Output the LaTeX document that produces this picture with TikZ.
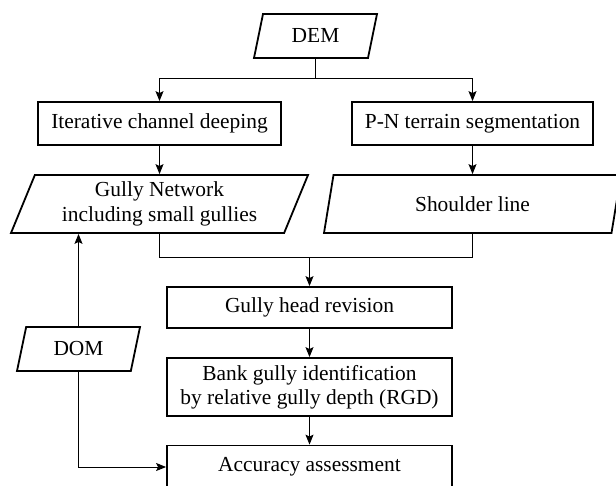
\documentclass[tikz,border=0pt]{standalone}
\usepackage{fontspec}
\setmainfont{Liberation Serif}
\usetikzlibrary{shapes.geometric, arrows.meta, positioning}

\begin{document}
\begin{tikzpicture}[
                x=1bp, y=-1bp,
                % process steps (rectangles)
                procbox/.style={
                    rectangle,
                    draw=black, line width=1.8bp,
                    fill=white,
                    font=\fontsize{21.5}{24.5}\selectfont,
                    align=center, inner sep=2bp
                },
                % input / output data (parallelograms)
                databox/.style={
                    trapezium, trapezium left angle=63.5, trapezium right angle=116.5,
                    trapezium stretches body,
                    draw=black, line width=1.8bp,
                    fill=white,
                    font=\fontsize{21.5}{24.5}\selectfont,
                    align=center, inner sep=2bp
                },
                % plain connector
                flowline/.style={
                    line width=0.9bp, color=black
                },
                % connector with arrow head
                flowarrow/.style={
                    flowline, -{Stealth[length=10bp, width=8bp, inset=2bp]}
                }
            ]
                \useasboundingbox (0,0) rectangle (616,486);

                % 1. Data and process nodes
                \node[databox, minimum width=123bp, minimum height=44bp] (dem) at (315.5,36) {DEM};

                \node[procbox, minimum width=243bp, minimum height=43bp] (iter) at (159.5,123.5) {Iterative channel deeping};
                \node[procbox, minimum width=241bp, minimum height=43bp] (pnseg) at (472.5,123.5) {P-N terrain segmentation};

                \node[databox, minimum width=297bp, minimum height=58bp] (gully) at (159.5,204) {Gully Network\\including small gullies};
                \node[databox, minimum width=297bp, minimum height=58bp] (shoulder) at (472.5,204) {Shoulder line};

                \node[procbox, minimum width=285bp, minimum height=41bp] (head) at (309.5,307.5) {Gully head revision};
                \node[procbox, minimum width=285bp, minimum height=58bp] (bank) at (309.5,387) {Bank gully identification\\by relative gully depth (RGD)};
                \node[procbox, minimum width=285bp, minimum height=43bp] (acc) at (309.5,467) {Accuracy assessment};

                \node[databox, minimum width=123bp, minimum height=44bp] (dom) at (78.5,349) {DOM};

                % 2. Split below DEM
                \draw[flowline] (dem.south) -- ++(0,20) coordinate (fork);
                \draw[flowarrow] (fork) -| (iter.north);
                \draw[flowarrow] (fork) -| (pnseg.north);

                \draw[flowarrow] (iter.south) -- (gully.north);
                \draw[flowarrow] (pnseg.south) -- (shoulder.north);

                % 3. Merge into the revision chain
                \draw[flowline] (gully.south) -- ++(0,24) coordinate (merge) -| (shoulder.south);
                \draw[flowarrow] (merge -| head.north) -- (head.north);
                \draw[flowarrow] (head.south) -- (bank.north);
                \draw[flowarrow] (bank.south) -- (acc.north);

                % 4. DOM used for the network and the assessment
                \draw[flowarrow] (dom.north) -- (dom.north |- gully.south);
                \draw[flowarrow] (dom.south) |- (acc.west);

            \end{tikzpicture}
\end{document}
